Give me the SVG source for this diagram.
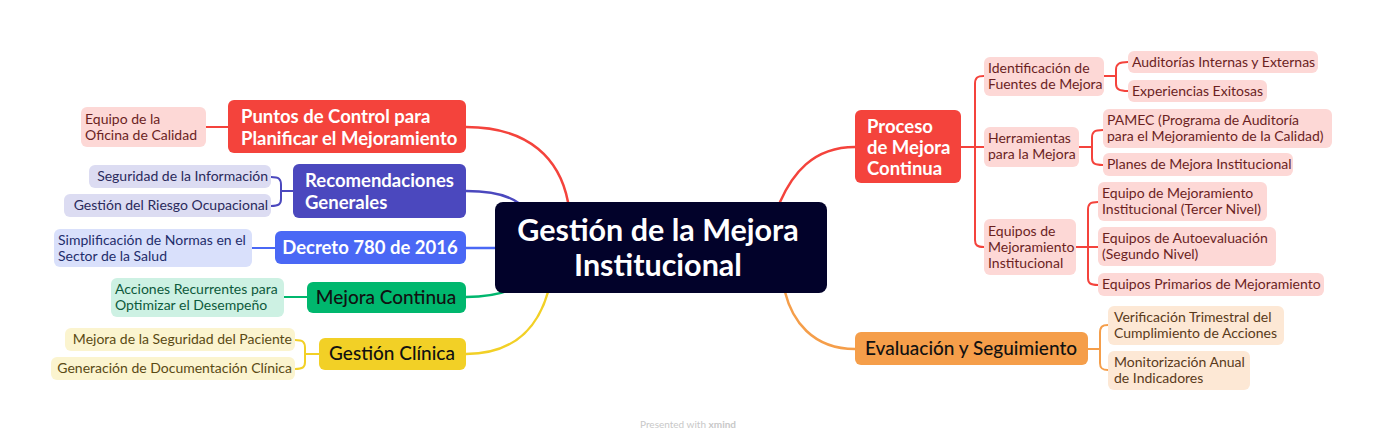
<svg xmlns="http://www.w3.org/2000/svg" width="1383" height="442" viewBox="0 0 1383 442">
<style>
text{font-family:Lato,"Open Sans",sans-serif}
.c{fill:none;stroke-linecap:round;stroke-linejoin:round}
.m{stroke-width:2.5}
.s{stroke-width:2}
.mt{font-size:18.5px;font-weight:700;fill:#fff}
.md{font-size:19px;font-weight:500;fill:#111}
.st{font-size:14px}
.red{stroke:#f4433c}.ind{stroke:#4b48be}.blu{stroke:#4a68f5}.grn{stroke:#00b76e}.yel{stroke:#f2d026}.org{stroke:#f59e4a}
</style>
<rect width="1383" height="442" fill="#fff"/>
<g id="connectors">
<path class="c m red" d="M466 127 C530 127 560 160 568 202"/>
<path class="c m ind" d="M466 191 C495 191 510 196 520 204"/>
<path class="c m blu" d="M466 248 H495"/>
<path class="c m grn" d="M466 297 C488 297 500 294 510 290"/>
<path class="c m yel" d="M466 354 C520 354 540 320 548 292"/>
<path class="c m red" d="M855 147 C812 147 792 175 780 202"/>
<path class="c m org" d="M855 349 C812 349 792 320 785 292"/>
<path class="c s red" d="M206 127 H228"/>
<path class="c s ind" d="M271 177 C279 177 281 179 281 185 V199 C281 204 279 206 271 206 M281 191 H293"/>
<path class="c s blu" d="M252 248 H275"/>
<path class="c s grn" d="M284 297 H307"/>
<path class="c s yel" d="M295 340 C303 340 305 342 305 348 V362 C305 367 303 369 295 369 M305 354 H319"/>
<path class="c s red" d="M961 147 H975 M984 76 C977 76 975 78 975 84 V240 C975 245 977 247 984 247 M975 147 H984"/>
<path class="c s red" d="M1104 76 H1116 M1128 62 C1119 62 1116 64 1116 70 V84 C1116 89 1119 91 1128 91"/>
<path class="c s red" d="M1079 147 H1092 M1103 130 C1094 130 1092 132 1092 138 V158 C1092 163 1094 165 1103 165"/>
<path class="c s red" d="M1076 247 H1098 M1098 202 C1090 202 1088 204 1088 210 V278 C1088 283 1090 285 1098 285"/>
<path class="c s org" d="M1088 349 H1100 M1108 325 C1102 325 1100 327 1100 333 V363 C1100 368 1102 370 1108 370"/>
</g>
<g id="center">
<rect x="495" y="202" width="332" height="91" rx="8" fill="#02022a"/>
<text x="658" y="241" text-anchor="middle" font-size="30.5" font-weight="700" fill="#fff">Gestión de la Mejora</text>
<text x="658" y="276" text-anchor="middle" font-size="30.5" font-weight="700" fill="#fff">Institucional</text>
</g>
<g id="puntos">
<rect x="228" y="100" width="238" height="53" rx="6" fill="#f4433c"/>
<text class="mt" x="241" y="123">Puntos de Control para</text>
<text class="mt" x="241" y="145">Planificar el Mejoramiento</text>
</g>
<g id="equipo-oficina">
<rect x="81" y="107" width="125" height="40" rx="6" fill="#fdd8d6"/>
<text class="st" fill="#6b1f1f" x="85" y="124">Equipo de la</text>
<text class="st" fill="#6b1f1f" x="85" y="140">Oficina de Calidad</text>
</g>
<g id="recomendaciones">
<rect x="293" y="164" width="173" height="54" rx="6" fill="#4b48be"/>
<text class="mt" x="305" y="187">Recomendaciones</text>
<text class="mt" x="305" y="209">Generales</text>
</g>
<g id="seguridad-info">
<rect x="89" y="165" width="182" height="23" rx="6" fill="#dcdcf2"/>
<text class="st" fill="#2a2a5c" x="268" y="181" text-anchor="end">Seguridad de la Información</text>
</g>
<g id="riesgo">
<rect x="64" y="194" width="207" height="23" rx="6" fill="#dcdcf2"/>
<text class="st" fill="#2a2a5c" x="268" y="210" text-anchor="end">Gestión del Riesgo Ocupacional</text>
</g>
<g id="decreto">
<rect x="275" y="231" width="191" height="33" rx="6" fill="#4a68f5"/>
<text class="mt" x="370" y="254" text-anchor="middle">Decreto 780 de 2016</text>
</g>
<g id="simplificacion">
<rect x="54" y="229" width="198" height="38" rx="6" fill="#d9e0fb"/>
<text class="st" fill="#1f2d6b" x="58" y="245">Simplificación de Normas en el</text>
<text class="st" fill="#1f2d6b" x="58" y="261">Sector de la Salud</text>
</g>
<g id="mejora-continua">
<rect x="307" y="282" width="159" height="31" rx="6" fill="#00b76e"/>
<text class="md" x="386" y="304" text-anchor="middle">Mejora Continua</text>
</g>
<g id="acciones">
<rect x="111" y="278" width="173" height="39" rx="6" fill="#cdf1e3"/>
<text class="st" fill="#0d5a3c" x="115" y="294">Acciones Recurrentes para</text>
<text class="st" fill="#0d5a3c" x="115" y="310">Optimizar el Desempeño</text>
</g>
<g id="gestion-clinica">
<rect x="319" y="338" width="147" height="32" rx="6" fill="#f2d026"/>
<text class="md" x="392" y="360" text-anchor="middle">Gestión Clínica</text>
</g>
<g id="seguridad-paciente">
<rect x="65" y="328" width="230" height="23" rx="6" fill="#fbf4cf"/>
<text class="st" fill="#5a4a14" x="292" y="344" text-anchor="end">Mejora de la Seguridad del Paciente</text>
</g>
<g id="documentacion">
<rect x="51" y="357" width="244" height="23" rx="6" fill="#fbf4cf"/>
<text class="st" fill="#5a4a14" x="292" y="373" text-anchor="end">Generación de Documentación Clínica</text>
</g>
<g id="proceso">
<rect x="855" y="110" width="106" height="73" rx="6" fill="#f4433c"/>
<text class="mt" x="867" y="133">Proceso</text>
<text class="mt" x="867" y="154">de Mejora</text>
<text class="mt" x="867" y="175">Continua</text>
</g>
<g id="identificacion">
<rect x="984" y="57" width="120" height="39" rx="6" fill="#fdd8d6"/>
<text class="st" fill="#6b1f1f" x="988" y="73">Identificación de</text>
<text class="st" fill="#6b1f1f" x="988" y="89">Fuentes de Mejora</text>
</g>
<g id="auditorias">
<rect x="1128" y="51" width="190" height="22" rx="6" fill="#fdd8d6"/>
<text class="st" fill="#6b1f1f" x="1132" y="67">Auditorías Internas y Externas</text>
</g>
<g id="experiencias">
<rect x="1128" y="80" width="139" height="22" rx="6" fill="#fdd8d6"/>
<text class="st" fill="#6b1f1f" x="1132" y="96">Experiencias Exitosas</text>
</g>
<g id="herramientas">
<rect x="984" y="127" width="95" height="40" rx="6" fill="#fdd8d6"/>
<text class="st" fill="#6b1f1f" x="988" y="143">Herramientas</text>
<text class="st" fill="#6b1f1f" x="988" y="159">para la Mejora</text>
</g>
<g id="pamec">
<rect x="1103" y="109" width="229" height="39" rx="6" fill="#fdd8d6"/>
<text class="st" fill="#6b1f1f" x="1107" y="125">PAMEC (Programa de Auditoría</text>
<text class="st" fill="#6b1f1f" x="1107" y="141">para el Mejoramiento de la Calidad)</text>
</g>
<g id="planes">
<rect x="1103" y="153" width="190" height="23" rx="6" fill="#fdd8d6"/>
<text class="st" fill="#6b1f1f" x="1107" y="169">Planes de Mejora Institucional</text>
</g>
<g id="equipos-mejoramiento">
<rect x="984" y="219" width="92" height="56" rx="6" fill="#fdd8d6"/>
<text class="st" fill="#6b1f1f" x="988" y="236">Equipos de</text>
<text class="st" fill="#6b1f1f" x="988" y="252">Mejoramiento</text>
<text class="st" fill="#6b1f1f" x="988" y="268">Institucional</text>
</g>
<g id="tercer-nivel">
<rect x="1098" y="182" width="169" height="39" rx="6" fill="#fdd8d6"/>
<text class="st" fill="#6b1f1f" x="1102" y="198">Equipo de Mejoramiento</text>
<text class="st" fill="#6b1f1f" x="1102" y="214">Institucional (Tercer Nivel)</text>
</g>
<g id="segundo-nivel">
<rect x="1098" y="227" width="178" height="39" rx="6" fill="#fdd8d6"/>
<text class="st" fill="#6b1f1f" x="1102" y="243">Equipos de Autoevaluación</text>
<text class="st" fill="#6b1f1f" x="1102" y="259">(Segundo Nivel)</text>
</g>
<g id="primarios">
<rect x="1098" y="273" width="226" height="23" rx="6" fill="#fdd8d6"/>
<text class="st" fill="#6b1f1f" x="1102" y="289">Equipos Primarios de Mejoramiento</text>
</g>
<g id="evaluacion">
<rect x="855" y="332" width="233" height="33" rx="6" fill="#f59e4a"/>
<text class="md" x="971" y="355" text-anchor="middle">Evaluación y Seguimiento</text>
</g>
<g id="verificacion">
<rect x="1108" y="306" width="176" height="39" rx="6" fill="#fde8d5"/>
<text class="st" fill="#5a3a1a" x="1114" y="322">Verificación Trimestral del</text>
<text class="st" fill="#5a3a1a" x="1114" y="338">Cumplimiento de Acciones</text>
</g>
<g id="monitorizacion">
<rect x="1108" y="351" width="142" height="39" rx="6" fill="#fde8d5"/>
<text class="st" fill="#5a3a1a" x="1114" y="367">Monitorización Anual</text>
<text class="st" fill="#5a3a1a" x="1114" y="383">de Indicadores</text>
</g>
<text x="640" y="428" font-size="10" fill="#c8c8c8">Presented with <tspan font-weight="700">xmind</tspan></text>
</svg>
